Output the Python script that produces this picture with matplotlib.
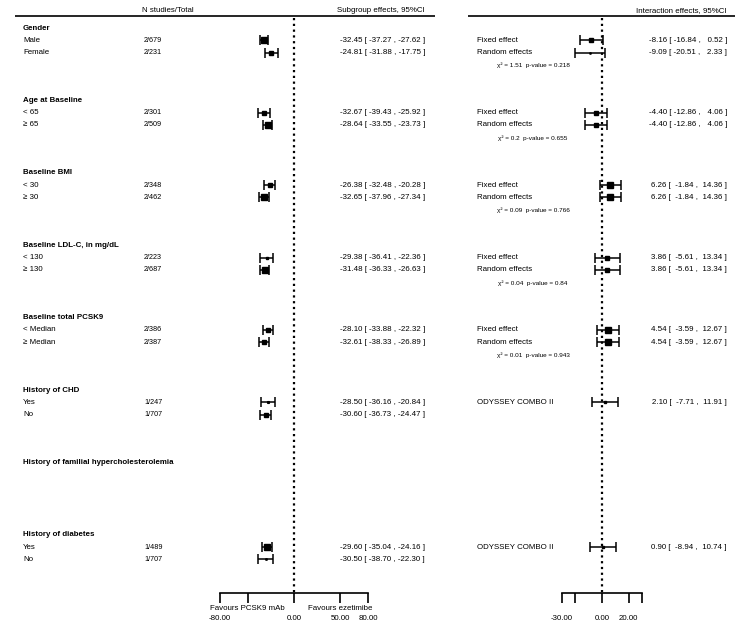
import numpy as np
import matplotlib.pyplot as plt

plt.rcParams['font.family'] = ['Liberation Sans', 'DejaVu Sans']

# -----------------------------
# Daten
# -----------------------------
groups = ["Gender", "Age at Baseline", "Baseline BMI", "Baseline LDL-C, in mg/dL",
          "Baseline total PCSK9", "History of CHD",
          "History of familial hypercholesterolemia", "History of diabetes"]

sub_group = [0, 0, 1, 1, 2, 2, 3, 3, 4, 4, 5, 5, 7, 7]
sub_row = [0, 1, 0, 1, 0, 1, 0, 1, 0, 1, 0, 1, 0, 1]
sub_label = ["Male", "Female", "< 65", "≥ 65", "< 30", "≥ 30", "< 130", "≥ 130",
             "< Median", "≥ Median", "Yes", "No", "Yes", "No"]
sub_n = ["2/679", "2/231", "2/301", "2/509", "2/348", "2/462", "2/223", "2/687",
         "2/386", "2/387", "1/247", "1/707", "1/489", "1/707"]
sub_est = [-32.45, -24.81, -32.67, -28.64, -26.38, -32.65, -29.38, -31.48,
           -28.10, -32.61, -28.50, -30.60, -29.60, -30.50]
sub_lo = [-37.27, -31.88, -39.43, -33.55, -32.48, -37.96, -36.41, -36.33,
          -33.88, -38.33, -36.16, -36.73, -35.04, -38.70]
sub_hi = [-27.62, -17.75, -25.92, -23.73, -20.28, -27.34, -22.36, -26.63,
          -22.32, -26.89, -20.84, -24.47, -24.16, -22.30]
sub_w = [0.75, 0.25, 0.25, 0.75, 0.3, 0.7, 0.2, 0.8, 0.45, 0.55, 0.08, 0.45, 0.8, 0.05]

int_group = [0, 0, 1, 1, 2, 2, 3, 3, 4, 4, 5, 7]
int_row = [0, 1, 0, 1, 0, 1, 0, 1, 0, 1, 0, 0]
int_label = ["Fixed effect", "Random effects"] * 5 + ["ODYSSEY COMBO II"] * 2
int_est = [-8.16, -9.09, -4.40, -4.40, 6.26, 6.26, 3.86, 3.86, 4.54, 4.54, 2.10, 0.90]
int_lo = [-16.84, -20.51, -12.86, -12.86, -1.84, -1.84, -5.61, -5.61, -3.59, -3.59, -7.71, -8.94]
int_hi = [0.52, 2.33, 4.06, 4.06, 14.36, 14.36, 13.34, 13.34, 12.67, 12.67, 11.91, 10.74]
int_w = [0.6, 0.04, 0.6, 0.6, 0.9, 0.9, 0.35, 0.35, 0.7, 0.7, 0.2, 0.2]

chi_group = [0, 1, 2, 3, 4]
chi_val = ["1.51", "0.2", "0.09", "0.04", "0.01"]
chi_p = ["0.218", "0.655", "0.766", "0.84", "0.943"]

left_ticks = [-80, -50, 0, 50, 80]
left_ticklabels = ["-80.00", "", "0.00", "50.00", "80.00"]
right_ticks = [-30, -20, 0, 20, 30]
right_ticklabels = ["-30.00", "", "0.00", "20.00", ""]

# -----------------------------
# Layout (Pixel)
# -----------------------------
W, H = 753, 641
FS = 5.7


def y_head(g):
    return 28 + 72.4 * g


def y_row(g, r):
    return y_head(g) + 12.3 * (r + 1)


fig = plt.figure(figsize=(W / 100, H / 100), dpi=100)

ax = fig.add_axes([0, 0, 1, 1])
ax.set_xlim(0, W)
ax.set_ylim(H, 0)
ax.axis("off")


def forest_axes(x0, x1, lim):
    a = fig.add_axes([x0 / W, 0, (x1 - x0) / W, 1])
    a.set_xlim(-lim, lim)
    a.set_ylim(H, 0)
    a.patch.set_visible(False)
    for s in ["top", "left", "right"]:
        a.spines[s].set_visible(False)
    a.spines["bottom"].set_position(("data", 593))
    a.spines["bottom"].set_linewidth(1.2)
    a.set_yticks([])
    a.tick_params(axis="x", direction="out", length=7, width=1.2, pad=9, labelsize=FS)
    return a


axl = forest_axes(220, 368, 80)
axr = forest_axes(562, 642, 30)

# Kopfzeilen
ax.hlines(16, 15, 435, color="black", lw=1.2)
ax.hlines(16, 468, 735, color="black", lw=1.2)
ax.text(142, 14, "N studies/Total", fontsize=FS, va="bottom")
ax.text(425, 14, "Subgroup effects, 95%CI", fontsize=FS, va="bottom", ha="right")
ax.text(727, 14, "Interaction effects, 95%CI", fontsize=FS, va="bottom", ha="right")

# Gruppen
for g, name in enumerate(groups):
    ax.text(23, y_head(g), name, fontsize=FS, fontweight="bold", va="center")

# -----------------------------
# Subgroup effects
# -----------------------------
for i in range(len(sub_est)):
    y = y_row(sub_group[i], sub_row[i])
    ax.text(23, y, sub_label[i], fontsize=FS, va="center")
    ax.text(144, y, sub_n[i], fontsize=FS * 0.92, va="center")
    ax.text(340, y, f"{sub_est[i]:.2f} [ {sub_lo[i]:6.2f} , {sub_hi[i]:6.2f} ]",
            fontsize=FS, va="center")
    axl.errorbar(sub_est[i], y,
                 xerr=[[sub_est[i] - sub_lo[i]], [sub_hi[i] - sub_est[i]]],
                 fmt="s", color="black", ms=4.4 * np.sqrt(sub_w[i]),
                 elinewidth=1.1, capsize=3.6, capthick=1.1)

axl.vlines(0, 18, 593, color="black", lw=1.6, linestyles=(0, (1, 1.6)))
axl.set_xticks(left_ticks)
axl.set_xticklabels(left_ticklabels)
axl.text(-50, 608, "Favours PCSK9 mAb", fontsize=FS, ha="center", va="center")
axl.text(50, 608, "Favours ezetimibe", fontsize=FS, ha="center", va="center")

# -----------------------------
# Interaction effects
# -----------------------------
for i in range(len(int_est)):
    y = y_row(int_group[i], int_row[i])
    ax.text(477, y, int_label[i], fontsize=FS, va="center")
    ax.text(727, y, f"{int_est[i]:.2f} [ {int_lo[i]:6.2f} , {int_hi[i]:6.2f} ]",
            fontsize=FS, va="center", ha="right")
    axr.errorbar(int_est[i], y,
                 xerr=[[int_est[i] - int_lo[i]], [int_hi[i] - int_est[i]]],
                 fmt="s", color="black", ms=4.4 * np.sqrt(int_w[i]),
                 elinewidth=1.1, capsize=3.6, capthick=1.1)

for g, c, p in zip(chi_group, chi_val, chi_p):
    ax.text(533, y_head(g) + 37.5, f"χ² = {c}  p-value = {p}",
            fontsize=FS * 0.8, ha="center", va="center")

axr.vlines(0, 18, 593, color="black", lw=1.6, linestyles=(0, (1, 1.6)))
axr.set_xticks(right_ticks)
axr.set_xticklabels(right_ticklabels)

fig.savefig("out.png", dpi=100)
